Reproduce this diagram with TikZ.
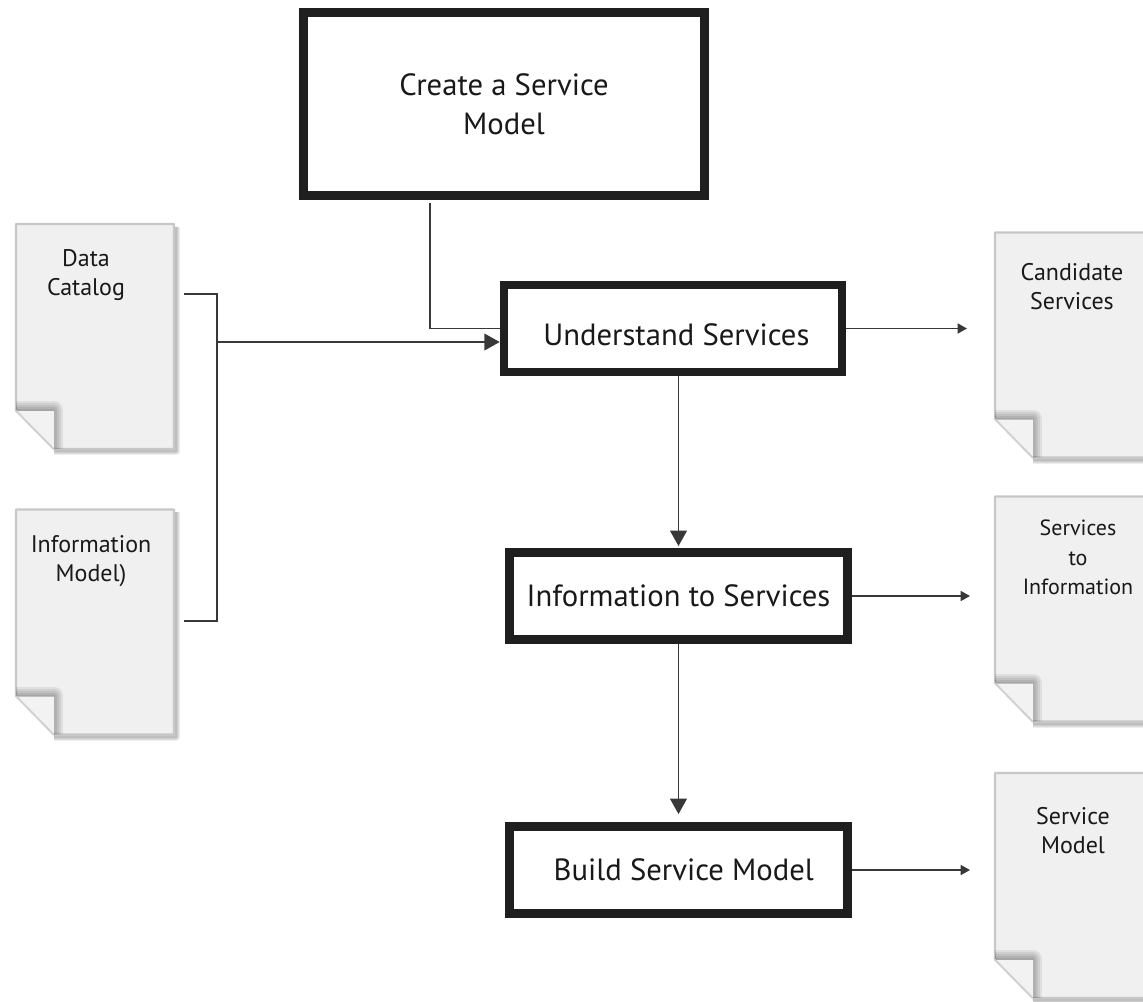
\documentclass[tikz,border=0pt]{standalone}
\usepackage{fontspec}
\setmainfont{PT Sans}
\usetikzlibrary{arrows.meta}

\begin{document}
\begin{tikzpicture}[x=0.75pt,y=-0.75pt,->,>={Triangle[length=11.5pt,width=12.5pt]},line width=1.2pt]
	\tikzstyle{stepbox}=[rectangle,draw=black!88,line width=6.4pt,fill=white,text=black!90,align=center,font=\fontsize{23}{29}\selectfont]
	\tikzstyle{docpage}=[rectangle,minimum width=118.5pt,minimum height=168.75pt,inner sep=0pt,outer sep=0pt]
	\tikzstyle{doctext}=[anchor=north,align=center,text=black!90,font=\fontsize{18}{22}\selectfont]
	\tikzstyle{wire}=[draw=black!78]
	\tikzstyle{smalltip}=[-{Triangle[length=7pt,width=7.5pt]}]
	\useasboundingbox (0,0) rectangle (1143,1001);
	% the sheets
	\node[docpage] (catalog) at (95,336.5) {};
	\node[docpage] (infomodel) at (95,622) {};
	\node[docpage,minimum width=114pt] (candidate) at (1071,345) {};
	\node[docpage,minimum width=114pt] (servinfo) at (1071,609) {};
	\node[docpage,minimum width=114pt] (servmodel) at (1071,885.5) {};
	\foreach \n in {catalog,infomodel,candidate,servinfo,servmodel} {
		\foreach \w in {6,4.5,3,1.5}
			\draw[-,line width=\w pt,draw=black,opacity=0.07,line join=round] ([shift={(28.5pt,-1.5pt)}]\n.south west) -- ([shift={(1.5pt,-1.5pt)}]\n.south east) -- ([shift={(1.5pt,-2pt)}]\n.north east);
		\draw[-,fill=black!6,draw=black!22,line width=1.8pt,line join=round] (\n.north west) -- (\n.north east) -- (\n.south east) -- ([xshift=28.5pt]\n.south west) -- ([yshift=29pt]\n.south west) -- cycle;
		\begin{scope}
			\clip ([shift={(1pt,-1pt)}]\n.north west) -- ([shift={(-1pt,-1pt)}]\n.north east) -- ([shift={(-1pt,1pt)}]\n.south east) -- ([xshift=28.5pt]\n.south west) -- ([yshift=29pt]\n.south west) -- cycle;
			\foreach \w in {14,11,8,5,2}
				\draw[-,line width=\w pt,draw=black,opacity=0.07,line join=round] ([yshift=29pt]\n.south west) -- ([shift={(28.5pt,29pt)}]\n.south west) -- ([xshift=28.5pt]\n.south west);
		\end{scope}
		\fill[black!5] ([yshift=28.5pt]\n.south west) -- ([shift={(28.5pt,28.5pt)}]\n.south west) -- ([xshift=28.5pt]\n.south west) -- cycle;
		\draw[-,draw=black!18,line width=1pt] ([yshift=29pt]\n.south west) -- ([xshift=28.5pt]\n.south west);
	}
	\node[doctext] (catalogtext)   at (86,244)   {Data\\Catalog};
	\node[doctext] (infotext)      at (91,530)   {Information\\Model)};
	\node[doctext] (candtext)      at (1072,258) {Candidate\\Services};
	\node[doctext,font=\fontsize{16.5}{22}\selectfont] (sitext) at (1078,515) {Services\\to\\Information};
	\node[doctext] (smtext)        at (1073,802) {Service\\Model};
	% the steps
	\node[stepbox,minimum width=301pt,minimum height=137.6pt] (create)  at (504,104)   {Create a Service\\Model};
	\node[stepbox,minimum width=253.5pt,minimum height=65pt] (understand) at (673,328.5) {\hspace*{5pt}\raisebox{-13pt}[0pt][0pt]{Understand Services}};
	\node[stepbox,minimum width=253.5pt,minimum height=65.5pt] (infoserv) at (678.5,596) {Information to Services};
	\node[stepbox,minimum width=253.5pt,minimum height=65.5pt] (build) at (678.5,870) {\hspace*{8pt}Build Service Model};
	% free ends
	\coordinate (createout) at (430,203);
	\coordinate (busmid) at (217,342);
	\coordinate (catalogout) at (184,294);
	\coordinate (infoout) at (184,621);
	\coordinate (candin) at (967,328.5);
	\coordinate (siin) at (970,596);
	\coordinate (smin) at (970,870);
	% the connectors
	\path[wire,-] (catalogout) -| (busmid);
	\path[wire,-] (infoout) -| (busmid);
	\path[wire] (busmid) -- (busmid -| understand.west);
	\path[wire,-] (createout) |- (understand.west);
	\path[wire,smalltip] (understand.east) -- (candin);
	\path[wire,smalltip] (infoserv.east) -- (siin);
	\path[wire,smalltip] (build.east) -- (smin);
	\path[wire] (understand.south -| infoserv.north) -- ([yshift=1.5pt]infoserv.north);
	\path[wire] (infoserv.south) -- ([yshift=6pt]build.north);
\end{tikzpicture}
\end{document}
